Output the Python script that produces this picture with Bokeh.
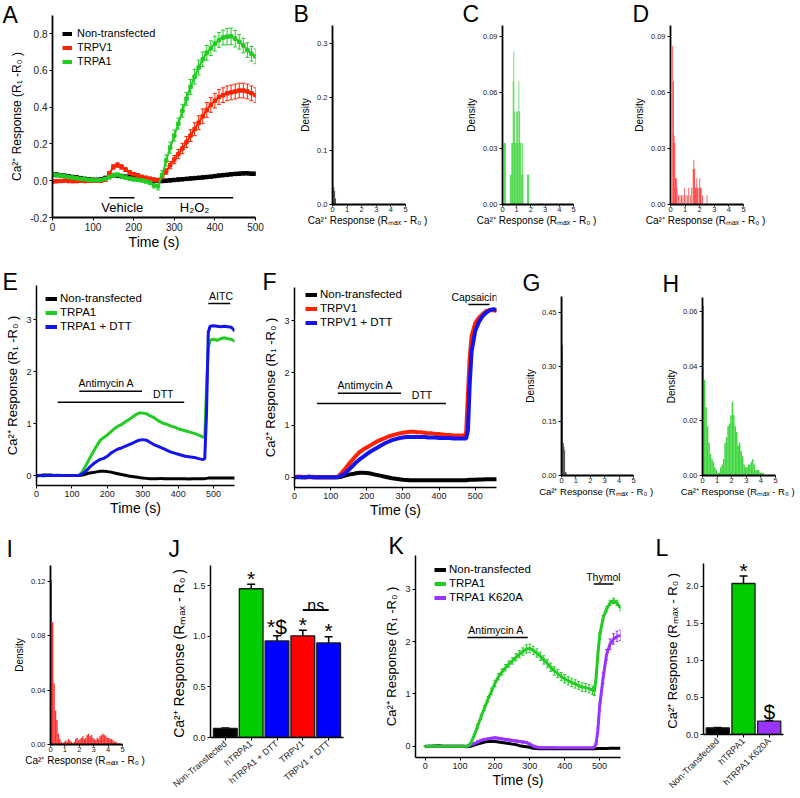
import math
from bokeh.plotting import figure
from bokeh.models import (ColumnDataSource, Whisker, TeeHead, Legend, LegendItem,
                          Range1d, FactorRange, FixedTicker, PrintfTickFormatter)
from bokeh.layouts import row, column
from bokeh.transform import dodge
from bokeh.embed import file_html
from bokeh.resources import INLINE
from bokeh.core.properties import value

# ======================= DATA =======================
# ---- Panel A (H2O2) ----
A_time = list(range(0, 501, 10))
A_black = [0.035, 0.033, 0.030, 0.027, 0.024, 0.020, 0.017, 0.014, 0.010, 0.007,
           0.005, 0.005, 0.008, 0.015, 0.025, 0.030, 0.028, 0.025, 0.022, 0.018,
           0.015, 0.012, 0.010, 0.008, 0.005, 0.002, 0.000, -0.002, 0.000, 0.002,
           0.004, 0.006, 0.008, 0.010, 0.012, 0.014, 0.016, 0.018, 0.020, 0.022,
           0.025, 0.028, 0.030, 0.032, 0.035, 0.037, 0.038, 0.040, 0.040, 0.038,
           0.038]
A_red = [-0.005, -0.003, -0.002, 0.000, -0.002, -0.003, -0.002, 0.000, -0.002, 0.000,
         0.000, 0.000, 0.000, 0.005, 0.040, 0.075, 0.085, 0.075, 0.060, 0.045,
         0.035, 0.028, 0.020, 0.015, 0.010, 0.005, 0.003, 0.020, 0.050, 0.085,
         0.115, 0.145, 0.175, 0.210, 0.245, 0.280, 0.315, 0.350, 0.385, 0.412,
         0.435, 0.455, 0.465, 0.475, 0.480, 0.485, 0.490, 0.490, 0.485, 0.475,
         0.465]
A_green = [0.035, 0.030, 0.028, 0.025, 0.020, 0.017, 0.013, 0.010, 0.008, 0.005,
           0.003, 0.003, 0.005, 0.010, 0.020, 0.030, 0.032, 0.025, 0.018, 0.012,
           0.008, 0.005, 0.002, -0.003, -0.010, -0.025, -0.030, 0.030, 0.110, 0.180,
           0.245, 0.310, 0.380, 0.445, 0.510, 0.565, 0.615, 0.660, 0.695, 0.720,
           0.745, 0.765, 0.778, 0.783, 0.785, 0.772, 0.755, 0.735, 0.710, 0.690,
           0.676]
A_black_err = [0.008, 0.008, 0.007, 0.008, 0.008, 0.007, 0.008, 0.008, 0.007, 0.008,
               0.008, 0.007, 0.008, 0.008, 0.008, 0.007, 0.008, 0.008, 0.007, 0.008,
               0.008, 0.007, 0.008, 0.008, 0.007, 0.008, 0.008, 0.007, 0.008, 0.008,
               0.007, 0.008, 0.008, 0.007, 0.008, 0.008, 0.007, 0.008, 0.008, 0.007,
               0.008, 0.008, 0.007, 0.008, 0.008, 0.007, 0.008, 0.008, 0.007, 0.008,
               0.008]
A_red_err = [0.006, 0.006, 0.006, 0.006, 0.006, 0.006, 0.006, 0.006, 0.006, 0.006,
             0.006, 0.006, 0.006, 0.008, 0.010, 0.012, 0.012, 0.012, 0.010, 0.010,
             0.010, 0.010, 0.010, 0.010, 0.010, 0.010, 0.010, 0.012, 0.015, 0.020,
             0.022, 0.025, 0.028, 0.030, 0.032, 0.035, 0.038, 0.040, 0.040, 0.040,
             0.040, 0.040, 0.040, 0.040, 0.040, 0.040, 0.040, 0.040, 0.040, 0.040,
             0.040]
A_green_err = [0.010, 0.010, 0.010, 0.010, 0.010, 0.010, 0.010, 0.010, 0.010, 0.010,
               0.010, 0.010, 0.010, 0.010, 0.010, 0.010, 0.010, 0.010, 0.010, 0.010,
               0.010, 0.010, 0.010, 0.010, 0.010, 0.015, 0.020, 0.025, 0.030, 0.030,
               0.030, 0.030, 0.035, 0.035, 0.040, 0.040, 0.040, 0.040, 0.040, 0.040,
               0.040, 0.040, 0.040, 0.045, 0.045, 0.045, 0.040, 0.040, 0.040, 0.040,
               0.040]
A_legend = ["Non-transfected", "TRPV1", "TRPA1"]
A_stim_name = ["Vehicle", "H\u2082O\u2082"]
A_stim_start = [140, 263]
A_stim_end = [202, 445]
A_stim_y = [-0.092, -0.092]
A_stim_label_x = [172, 350]
A_stim_label_y = [-0.145, -0.148]

# ---- Histograms (bin centers, densities) ----
B_centers = [0.03, 0.09, 0.15, 0.21]
B_density = [0.305, 0.032, 0.025, 0.011]
C_centers = [0.10, 0.15, 0.20, 0.55, 0.60, 0.65, 0.70, 0.75, 0.80, 0.85, 0.90, 0.95,
             1.00, 1.05, 1.10, 1.15, 1.20, 1.25, 1.30, 1.35, 1.40, 1.45, 1.75, 1.80, 1.85]
C_density = [0.033, 0.033, 0.033, 0.016, 0.016, 0.033, 0.033, 0.066, 0.082, 0.050, 0.033, 0.033,
             0.050, 0.050, 0.033, 0.066, 0.050, 0.033, 0.033, 0.016, 0.033, 0.016, 0.016, 0.016, 0.016]
D_centers = [0.15, 0.20, 0.25, 0.30, 0.35, 0.40, 0.45, 0.55, 0.65, 0.75, 0.85, 0.95, 1.05,
             1.15, 1.25, 1.35, 1.45, 1.55, 1.60, 1.65, 1.70, 1.75, 1.80, 1.85, 1.95, 2.00,
             2.05, 2.10, 2.20, 2.50]
D_density = [0.085, 0.066, 0.037, 0.033, 0.014, 0.014, 0.009, 0.005, 0.005, 0.005, 0.005, 0.009, 0.005,
             0.005, 0.009, 0.005, 0.009, 0.019, 0.024, 0.019, 0.009, 0.009, 0.014, 0.009, 0.009, 0.014,
             0.009, 0.009, 0.005, 0.005]
G_centers = [0.025, 0.075, 0.125, 0.175, 0.225, 0.275, 0.325]
G_density = [0.490, 0.360, 0.090, 0.080, 0.070, 0.010, 0.008]
H_centers = [0.05, 0.15, 0.25, 0.35, 0.45, 0.55, 0.65, 0.75, 0.85, 0.95, 1.05, 1.15, 1.25, 1.35,
             1.45, 1.55, 1.65, 1.75, 1.85, 1.95, 2.05, 2.15, 2.25, 2.35, 2.45, 2.55, 2.65, 2.75,
             2.85, 2.95, 3.05, 3.15, 3.25, 3.35, 3.45, 3.55, 3.65, 3.75, 3.85, 3.95, 4.05, 4.15]
H_density = [0.062, 0.035, 0.025, 0.018, 0.012, 0.008, 0.006, 0.005, 0.003, 0.002, 0.001, 0.001, 0.003, 0.004,
             0.006, 0.012, 0.014, 0.018, 0.019, 0.022, 0.027, 0.022, 0.018, 0.016, 0.011, 0.012, 0.009, 0.007,
             0.004, 0.003, 0.003, 0.004, 0.004, 0.005, 0.006, 0.004, 0.002, 0.002, 0.002, 0.001, 0.001, 0.001]
I_centers = [0.05, 0.15, 0.25, 0.35, 0.45, 0.55, 0.65, 0.75, 0.85, 0.95, 1.05, 1.15, 1.25, 1.35,
             1.45, 1.55, 1.65, 1.75, 1.85, 1.95, 2.05, 2.15, 2.25, 2.35, 2.45, 2.55, 2.65, 2.75,
             2.85, 2.95, 3.05, 3.15, 3.25, 3.35, 3.45, 3.55, 3.65, 3.75, 3.85, 3.95, 4.05, 4.15,
             4.25, 4.35, 4.45, 4.55, 4.65, 4.75]
I_density = [0.121, 0.090, 0.045, 0.025, 0.018, 0.008, 0.004, 0.002, 0.001, 0.002, 0.003, 0.002, 0.004, 0.003,
             0.002, 0.001, 0.002, 0.004, 0.005, 0.003, 0.004, 0.005, 0.006, 0.004, 0.005, 0.007, 0.008, 0.006,
             0.007, 0.005, 0.004, 0.003, 0.005, 0.004, 0.006, 0.007, 0.008, 0.007, 0.006, 0.005, 0.005, 0.004,
             0.004, 0.003, 0.002, 0.002, 0.001, 0.001]

# ---- Panels E / F (Antimycin A + DTT) ----
EF_time = list(range(0, 471, 10)) + [475, 480, 485, 490] + list(range(500, 561, 10))
E_black = [-0.01, 0.0, 0.01, 0.01, 0.01, 0.0, 0.0, 0.0, 0.0, 0.0, 0.0, 0.0, 0.0,
           0.01, 0.03, 0.05, 0.06, 0.07, 0.08, 0.08, 0.075, 0.065, 0.05, 0.035, 0.02, 0.005,
           -0.01, -0.02, -0.03, -0.04, -0.05, -0.055, -0.06, -0.06, -0.06, -0.055, -0.06, -0.06,
           -0.06, -0.06, -0.06, -0.06, -0.06, -0.065, -0.06, -0.06, -0.06, -0.06,
           -0.06, -0.055, -0.05, -0.05,
           -0.05, -0.05, -0.05, -0.05, -0.05, -0.05, -0.05]
E_green = [0.0, 0.0, -0.01, 0.0, 0.0, 0.0, 0.01, 0.0, 0.0, 0.0, 0.0, 0.0, 0.0,
           0.08, 0.2, 0.33, 0.45, 0.57, 0.68, 0.73, 0.78, 0.84, 0.9, 0.95, 0.98, 1.03,
           1.07, 1.12, 1.17, 1.2, 1.2, 1.19, 1.15, 1.12, 1.07, 1.03, 1.0, 0.98,
           0.95, 0.93, 0.9, 0.88, 0.86, 0.84, 0.82, 0.8, 0.77, 0.74,
           0.73, 1.7, 2.45, 2.6,
           2.62, 2.6, 2.63, 2.65, 2.63, 2.62, 2.58]
E_blue = [0.0, 0.0, 0.0, 0.0, 0.0, 0.0, 0.0, 0.0, 0.0, 0.0, 0.0, 0.0, 0.0,
          0.04, 0.09, 0.16, 0.22, 0.27, 0.31, 0.33, 0.37, 0.43, 0.47, 0.51, 0.53, 0.56,
          0.59, 0.62, 0.65, 0.68, 0.69, 0.68, 0.64, 0.6, 0.57, 0.54, 0.51, 0.48,
          0.45, 0.43, 0.41, 0.39, 0.37, 0.36, 0.35, 0.34, 0.32, 0.31,
          0.32, 1.2, 2.75, 2.87,
          2.88, 2.87, 2.86, 2.87, 2.86, 2.85, 2.78]
E_legend = ["Non-transfected", "TRPA1", "TRPA1 + DTT"]
E_stim_name = ["Antimycin A", "DTT", "AITC"]
E_stim_start = [121, 60, 485]
E_stim_end = [298, 417, 547]
E_stim_y = [1.62, 1.41, 3.31]
E_stim_label_x = [197, 358, 521]
E_stim_label_y = [1.77, 1.56, 3.46]

F_black = [0.0, 0.01, 0.0, 0.0, 0.01, 0.0, 0.0, 0.0, 0.0, 0.0, 0.0, 0.0, 0.0,
           0.01, 0.03, 0.05, 0.06, 0.075, 0.085, 0.085, 0.08, 0.07, 0.055, 0.04, 0.025, 0.01,
           -0.005, -0.02, -0.03, -0.04, -0.05, -0.055, -0.06, -0.06, -0.06, -0.06, -0.06, -0.06,
           -0.06, -0.06, -0.06, -0.06, -0.06, -0.06, -0.06, -0.06, -0.06, -0.06,
           -0.06, -0.055, -0.05, -0.05,
           -0.05, -0.045, -0.045, -0.04, -0.04, -0.04, -0.04]
F_red = [0.0, 0.01, 0.01, 0.0, 0.0, 0.01, 0.0, 0.0, 0.0, 0.0, 0.0, 0.0, 0.01,
         0.08, 0.16, 0.25, 0.33, 0.41, 0.48, 0.53, 0.57, 0.61, 0.65, 0.69, 0.72, 0.75,
         0.78, 0.8, 0.82, 0.84, 0.85, 0.86, 0.87, 0.87, 0.86, 0.86, 0.85, 0.84,
         0.84, 0.83, 0.83, 0.82, 0.81, 0.81, 0.8, 0.8, 0.8, 0.8,
         0.85, 1.6, 2.3, 2.7,
         2.95, 3.05, 3.12, 3.18, 3.2, 3.2, 3.18]
F_blue = [0.0, 0.0, 0.0, 0.0, 0.01, 0.0, 0.0, 0.0, 0.0, 0.0, 0.0, 0.0, 0.0,
          0.03, 0.08, 0.14, 0.21, 0.28, 0.34, 0.39, 0.44, 0.49, 0.53, 0.57, 0.61, 0.65,
          0.68, 0.71, 0.73, 0.75, 0.76, 0.77, 0.77, 0.77, 0.77, 0.77, 0.77, 0.76,
          0.76, 0.76, 0.75, 0.75, 0.75, 0.75, 0.74, 0.74, 0.74, 0.74,
          0.74, 0.9, 1.8, 2.4,
          2.8, 2.97, 3.08, 3.15, 3.2, 3.22, 3.2]
F_legend = ["Non-transfected", "TRPV1", "TRPV1 + DTT"]
F_stim_name = ["Antimycin A", "DTT", "Capsaicin"]
F_stim_start = [120, 62, 481]
F_stim_end = [295, 419, 540]
F_stim_y = [1.61, 1.41, 3.31]
F_stim_label_x = [196, 353, 498]
F_stim_label_y = [1.76, 1.57, 3.45]

# ---- Panel K (K620A) ----
K_time = list(range(0, 481, 10)) + [485, 490, 495, 500] + list(range(510, 561, 10))
K_black = [-0.01, 0.0, 0.0, 0.01, 0.01, 0.0, 0.0, 0.0, 0.0, 0.0, 0.0, 0.0, -0.01,
           0.0, 0.02, 0.04, 0.06, 0.08, 0.09, 0.09, 0.09, 0.08, 0.07, 0.06, 0.05, 0.04,
           0.03, 0.01, 0.0, -0.01, -0.02, -0.04, -0.045, -0.05, -0.05, -0.05, -0.05, -0.05,
           -0.05, -0.05, -0.05, -0.05, -0.05, -0.05, -0.05, -0.05, -0.05, -0.05, -0.05,
           -0.05, -0.05, -0.045, -0.045,
           -0.045, -0.045, -0.04, -0.04, -0.04, -0.04]
K_green = [0.0, 0.0, 0.0, 0.01, 0.0, 0.0, 0.0, 0.0, 0.0, 0.0, 0.0, 0.0, 0.0,
           0.05, 0.2, 0.38, 0.56, 0.73, 0.9, 1.05, 1.2, 1.33, 1.42, 1.5, 1.57, 1.63,
           1.7, 1.76, 1.81, 1.86, 1.87, 1.83, 1.78, 1.72, 1.65, 1.58, 1.51, 1.44,
           1.39, 1.33, 1.29, 1.25, 1.22, 1.19, 1.16, 1.13, 1.12, 1.1, 1.07,
           1.05, 1.3, 1.75, 2.1,
           2.45, 2.62, 2.74, 2.78, 2.74, 2.64]
K_green_err = [0.01, 0.01, 0.01, 0.01, 0.01, 0.01, 0.01, 0.01, 0.01, 0.01, 0.01, 0.01, 0.01,
               0.02, 0.03, 0.04, 0.05, 0.05, 0.05, 0.06, 0.06, 0.06, 0.06, 0.06, 0.06, 0.06,
               0.07, 0.07, 0.07, 0.08, 0.08, 0.08, 0.08, 0.08, 0.08, 0.08, 0.08, 0.08,
               0.08, 0.08, 0.08, 0.08, 0.08, 0.08, 0.08, 0.08, 0.08, 0.08, 0.08,
               0.08, 0.08, 0.07, 0.06,
               0.05, 0.05, 0.05, 0.05, 0.05, 0.05]
K_purple = [0.0, 0.0, 0.0, 0.0, 0.0, 0.0, 0.0, 0.0, 0.0, 0.0, 0.0, 0.0, 0.0,
            0.02, 0.05, 0.08, 0.11, 0.13, 0.14, 0.15, 0.16, 0.15, 0.14, 0.13, 0.12, 0.11,
            0.1, 0.09, 0.08, 0.07, 0.04, 0.0, -0.02, -0.03, -0.03, -0.03, -0.03, -0.03,
            -0.03, -0.03, -0.03, -0.03, -0.03, -0.03, -0.03, -0.03, -0.03, -0.03, -0.03,
            -0.02, 0.05, 0.3, 0.75,
            1.3, 1.75, 1.95, 2.05, 2.1, 2.12]
K_purple_err = [0.01, 0.01, 0.01, 0.01, 0.01, 0.01, 0.01, 0.01, 0.01, 0.01, 0.01, 0.01, 0.01,
                0.02, 0.02, 0.02, 0.02, 0.02, 0.02, 0.02, 0.02, 0.02, 0.02, 0.02, 0.02, 0.02,
                0.02, 0.02, 0.02, 0.02, 0.02, 0.02, 0.02, 0.02, 0.02, 0.02, 0.02, 0.02,
                0.01, 0.01, 0.01, 0.01, 0.01, 0.01, 0.01, 0.01, 0.01, 0.01, 0.01,
                0.01, 0.02, 0.05, 0.08,
                0.10, 0.10, 0.10, 0.10, 0.10, 0.10]
K_legend = ["Non-transfected", "TRPA1", "TRPA1 K620A"]
K_stim_name = ["Antimycin A", "Thymol"]
K_stim_start = [121, 483]
K_stim_end = [294, 540]
K_stim_y = [2.08, 3.10]
K_stim_label_x = [203, 511]
K_stim_label_y = [2.23, 3.24]

# ---- Bar charts J and L ----
J_cats = ["Non-Transfected", "hTRPA1", "hTRPA1 + DTT", "TRPV1", "TRPV1 + DTT"]
J_vals = [0.09, 1.47, 0.955, 1.005, 0.935]
J_err = [0.005, 0.045, 0.05, 0.055, 0.06]
J_marks = ["", "*", "*$", "*", "*"]
L_cats = ["Non-Transfected", "hTRPA1", "hTRPA1 K620A"]
L_vals = [0.09, 2.04, 0.18]
L_err = [0.005, 0.10, 0.01]
L_marks = ["", "*", "$"]

# ======================= STYLE =======================
FONT = "Liberation Sans"
BLACK = "#000000"
RED = "#FF2200"
GREEN = "#22CC22"
BLUE = "#1414EE"
PURPLE = "#9933FF"
BAR_GREEN = "#00CC00"
BAR_RED = "#FF0000"
BAR_BLUE = "#0000FF"
YLAB_LINE = "Ca\u00b2\u207a Response (R\u2081 -R\u2080 )"
YLAB_MAX = "Ca\u00b2\u207a Response (R\u2098\u2090\u2093  - R\u2080 )"
LETTER_PX = 23
LETTER_H = 26.8      # text box height of the letter titles
LETTER_DESC = 4.9    # descent of the letter font

# figure geometry: (width, height, border_left, border_right, border_top, border_bottom)
gA = (282, 255, 52, 27, 15, 38)
gB = (173, 255, 50, 50, 25, 51)
gC = (145, 255, 47, 27, 25, 51)
gD = (198, 255, 70, 55, 25, 51)
gE = (258, 275, 36, 24, 30, 45)
gF = (254, 275, 36, 16, 32, 43)
gG = (144, 275, 49, 23, 41, 55)
gH = (142, 275, 46, 23, 42, 55)
gI = (158, 266, 50, 36, 35, 52)
gJ = (223, 266, 52, 38, 35, 53)
gK = (273, 266, 28, 34, 25, 39)
gL = (144, 266, 49, 15, 33, 53)


def make_fig(g, xr, yr, letter, lx, lbase):
    w, h, bl, br, bt, bb = g
    p = figure(width=w, height=h, x_range=xr, y_range=yr, output_backend="svg",
               toolbar_location=None, min_border_left=bl, min_border_right=br,
               min_border_top=bt, min_border_bottom=bb)
    if "frame_align" in p.properties():
        p.frame_align = False
    p.outline_line_color = None
    p.xgrid.visible = False
    p.ygrid.visible = False
    # panel letter as title: baseline at lbase (figure coords), left edge at lx
    s = 2 * (bt - lbase - LETTER_DESC)
    s = min(s, bt - 2 - LETTER_H)
    p.title.text = letter
    p.title.text_font = FONT
    p.title.text_font_size = f"{LETTER_PX}px"
    p.title.text_font_style = "normal"
    p.title.text_color = "black"
    p.title.align = "left"
    p.title.vertical_align = "bottom"
    p.title.offset = lx - bl
    p.title.standoff = s
    return p


def style_axes(p, tick_px, xlab, ylab, xlab_px, ylab_px, lw=1.5, xstand=1, tstand=2):
    for ax in (p.xaxis[0], p.yaxis[0]):
        ax.axis_line_color = "black"
        ax.axis_line_width = lw
        ax.major_tick_line_color = "black"
        ax.major_tick_line_width = 1
        ax.major_tick_in = 0
        ax.major_tick_out = 3
        ax.minor_tick_line_color = None
        ax.minor_tick_out = 0
        ax.major_label_text_font = FONT
        ax.major_label_text_font_size = f"{tick_px}px"
        ax.major_label_text_color = "#1a1a1a"
        ax.major_label_standoff = 2
        ax.axis_label_text_font = FONT
        ax.axis_label_text_font_style = "normal"
        ax.axis_label_text_color = "black"
        ax.axis_label_standoff = 3
    p.xaxis[0].major_label_standoff = tstand
    p.xaxis[0].axis_label_standoff = xstand
    p.xaxis[0].axis_label = xlab
    p.yaxis[0].axis_label = ylab
    p.xaxis[0].axis_label_text_font_size = f"{xlab_px}px"
    p.yaxis[0].axis_label_text_font_size = f"{ylab_px}px"


def set_ticks(ax, ticks, fmt=None):
    ax.ticker = FixedTicker(ticks=ticks)
    if fmt:
        ax.formatter = PrintfTickFormatter(format=fmt)


def add_legend(p, g, names, colors, vx, top, glyph_w, standoff, font_px=11):
    w, h, bl, br, bt, bb = g
    fh = h - bt - bb
    items = []
    for nm, c in zip(names, colors):
        r = p.line(x=[float("nan")], y=[float("nan")], line_color=c, line_width=4)
        items.append(LegendItem(label=nm, renderers=[r]))
    n = len(items)
    lh = n * 13 + (n - 1) * 1
    leg = Legend(items=items, location=(vx, fh - top - lh), border_line_color=None,
                 background_fill_alpha=0, padding=0, margin=0, spacing=1,
                 glyph_width=glyph_w, glyph_height=13, label_height=13,
                 label_standoff=standoff, label_text_font=FONT,
                 label_text_font_size=f"{font_px}px", label_text_color="black")
    p.add_layout(leg)


def add_stims(p, starts, ends, ys, names, lx, ly, font_px):
    p.segment(x0=starts, y0=ys, x1=ends, y1=ys, line_color="black", line_width=1.5)
    p.text(x=lx, y=ly, text=names, text_font=value(FONT), text_font_size=f"{font_px}px",
           text_align="center", text_baseline="middle", text_color="black")


def hist_panel(g, centers, dens, width, color, ytop, yticks, yfmt, letter, lx, lb,
               alpha=0.75, xlab_px=10):
    p = make_fig(g, Range1d(0, 5), Range1d(0, ytop), letter, lx, lb)
    p.vbar(x=centers, width=width, top=dens, bottom=0, fill_color=color,
           fill_alpha=alpha, line_color=None)
    style_axes(p, 7.5, YLAB_MAX, "Density", xlab_px, 10, lw=1.8, xstand=0, tstand=0)
    p.xaxis[0].major_tick_out = 2
    set_ticks(p.xaxis[0], [0, 1, 2, 3, 4, 5])
    set_ticks(p.yaxis[0], yticks, yfmt)
    return p


def mark_height(marks, ups, plain, dollar):
    return [u + (dollar if "$" in m else plain) for m, u in zip(marks, ups)]


# ======================= PANEL A =======================
pA = make_fig(gA, Range1d(0, 500), Range1d(-0.2, 0.898), "A", 2, 23)
for vals, errs, col in [(A_black, A_black_err, BLACK), (A_red, A_red_err, RED),
                        (A_green, A_green_err, GREEN)]:
    src = ColumnDataSource(dict(t=A_time, v=vals,
                                up=[v + e for v, e in zip(vals, errs)],
                                lo=[v - e for v, e in zip(vals, errs)]))
    pA.add_layout(Whisker(source=src, base="t", upper="up", lower="lo", line_color=col,
                          line_width=1,
                          upper_head=TeeHead(size=4, line_color=col, line_width=1),
                          lower_head=TeeHead(size=4, line_color=col, line_width=1)))
    pA.line("t", "v", source=src, line_color=col, line_width=2)
    pA.scatter("t", "v", source=src, marker="square", size=3.5, color=col)
add_stims(pA, A_stim_start, A_stim_end, A_stim_y, A_stim_name, A_stim_label_x, A_stim_label_y, 13)
style_axes(pA, 10, "Time (s)", YLAB_LINE, 14, 12, lw=1.8, xstand=0)
set_ticks(pA.xaxis[0], [0, 100, 200, 300, 400, 500])
set_ticks(pA.yaxis[0], [-0.2, 0.0, 0.2, 0.4, 0.6, 0.8], "%.1f")
add_legend(pA, gA, A_legend, [BLACK, RED, GREEN], 10, 11.5, 10, 5)

# ======================= PANELS B C D =======================
pB = hist_panel(gB, B_centers, B_density, 0.06, "#111111", 0.3335, [0.0, 0.1, 0.2, 0.3], "%.1f",
                "B", 293 - 282, 20, 0.85)
pC = hist_panel(gC, C_centers, C_density, 0.06, "#11CC11", 0.0959, [0.0, 0.03, 0.06, 0.09], "%.2f",
                "C", 462 - 455, 21, 0.7)
pD = hist_panel(gD, D_centers, D_density, 0.06, "#FF0000", 0.0959, [0.0, 0.03, 0.06, 0.09], "%.2f",
                "D", 632 - 600, 21, 0.7)

# ======================= PANELS E F =======================
pE = make_fig(gE, Range1d(0, 559), Range1d(-0.192, 3.654), "E", 2, 290 - 255)
for vals, col in [(E_black, BLACK), (E_green, GREEN), (E_blue, BLUE)]:
    pE.line(EF_time, vals, line_color=col, line_width=3)
add_stims(pE, E_stim_start, E_stim_end, E_stim_y, E_stim_name, E_stim_label_x, E_stim_label_y, 10.5)
style_axes(pE, 9, "Time (s)", YLAB_LINE, 14, 13, xstand=0)
set_ticks(pE.xaxis[0], [0, 100, 200, 300, 400, 500])
set_ticks(pE.yaxis[0], [0, 1, 2, 3])
add_legend(pE, gE, E_legend, [BLACK, GREEN, BLUE], 9, 6.5, 12, 3, 11.5)

pF = make_fig(gF, Range1d(0, 559), Range1d(-0.197, 3.634), "F", 262 - 258, 290 - 255)
for vals, col in [(F_black, BLACK), (F_red, RED), (F_blue, BLUE)]:
    pF.line(EF_time, vals, line_color=col, line_width=4)
add_stims(pF, F_stim_start, F_stim_end, F_stim_y, F_stim_name, F_stim_label_x, F_stim_label_y, 10.5)
style_axes(pF, 9, "Time (s)", YLAB_LINE, 14, 13, xstand=0)
set_ticks(pF.xaxis[0], [0, 100, 200, 300, 400, 500])
set_ticks(pF.yaxis[0], [0, 1, 2, 3])
add_legend(pF, gF, F_legend, [BLACK, RED, BLUE], 11, 0.5, 12, 3, 11.5)

# ======================= PANELS G H I =======================
pG = hist_panel(gG, G_centers, G_density, 0.05, "#111111", 0.494, [0.0, 0.15, 0.30, 0.45], "%.2f",
                "G", 522 - 512, 291 - 255, 0.85, 9.5)
pH = hist_panel(gH, H_centers, H_density, 0.1, "#11CC11", 0.0651, [0.0, 0.02, 0.04, 0.06], "%.2f",
                "H", 662 - 656, 292 - 255, 0.8, 9.5)
pI = hist_panel(gI, I_centers, I_density, 0.1, "#FF0000", 0.1318, [0.0, 0.04, 0.08, 0.12], "%.2f",
                "I", 6, 555 - 530, 0.8)

# ======================= PANEL J =======================
J_colors = [BLACK, BAR_GREEN, BAR_BLUE, BAR_RED, BAR_BLUE]
J_up = [v + e for v, e in zip(J_vals, J_err)]
J_lo = [v - e for v, e in zip(J_vals, J_err)]
pJ = make_fig(gJ, FactorRange(factors=J_cats, range_padding=0.03), Range1d(0, 1.70),
              "J", 168 - 158, 554 - 530)
jsrc = ColumnDataSource(dict(cat=J_cats, val=J_vals, up=J_up, lo=J_lo, col=J_colors,
                             mark=J_marks, my=mark_height(J_marks, J_up, 0.06, 0.09)))
pJ.vbar(x="cat", top="val", width=0.92, source=jsrc, fill_color="col",
        line_color="#1a1a1a", line_width=1.3)
pJ.add_layout(Whisker(source=jsrc, base="cat", upper="up", lower="lo", line_color="black",
                      line_width=1.5,
                      upper_head=TeeHead(size=8, line_color="black", line_width=1.5),
                      lower_head=TeeHead(size=8, line_color="black", line_width=1.5)))
pJ.text(x="cat", y="my", text="mark", source=jsrc, text_font=value(FONT),
        text_font_size="21px", text_align="center", text_baseline="alphabetic")
ns_y = max(J_up[3], J_up[4]) + 0.2
pJ.segment(x0=[J_cats[3]], y0=[ns_y], x1=[J_cats[4]], y1=[ns_y], line_color="black", line_width=2)
pJ.text(x=dodge("cat", 0.5, range=pJ.x_range), y="y", text="t",
        source=ColumnDataSource(dict(cat=[J_cats[3]], y=[ns_y + 0.04], t=["ns"])),
        text_font=value(FONT), text_font_size="16px", text_align="center", text_baseline="alphabetic")
style_axes(pJ, 9, None, YLAB_MAX, 10, 14)
pJ.xaxis[0].major_label_orientation = 0.7
pJ.xaxis[0].major_label_text_font_size = "9px"
set_ticks(pJ.yaxis[0], [0.0, 0.5, 1.0, 1.5], "%.1f")

# ======================= PANEL K =======================
pK = make_fig(gK, Range1d(-28, 560), Range1d(-0.216, 3.646), "K", 382 - 381, 554 - 530)
pK.line(K_time, K_black, line_color=BLACK, line_width=3)
for vals, errs, col in [(K_purple, K_purple_err, PURPLE), (K_green, K_green_err, GREEN)]:
    src = ColumnDataSource(dict(t=K_time, v=vals,
                                up=[v + e for v, e in zip(vals, errs)],
                                lo=[v - e for v, e in zip(vals, errs)]))
    pK.add_layout(Whisker(source=src, base="t", upper="up", lower="lo", line_color=col,
                          line_width=1,
                          upper_head=TeeHead(size=3, line_color=col, line_width=1),
                          lower_head=TeeHead(size=3, line_color=col, line_width=1)))
    pK.line("t", "v", source=src, line_color=col, line_width=3)
add_stims(pK, K_stim_start, K_stim_end, K_stim_y, K_stim_name, K_stim_label_x, K_stim_label_y, 10.5)
style_axes(pK, 9, "Time (s)", YLAB_LINE, 14, 13, xstand=0)
set_ticks(pK.xaxis[0], [0, 100, 200, 300, 400, 500])
set_ticks(pK.yaxis[0], [0, 1, 2, 3])
add_legend(pK, gK, K_legend, [BLACK, GREEN, PURPLE], 19, 7.5, 12, 3, 11.5)

# ======================= PANEL L =======================
L_colors = [BLACK, BAR_GREEN, PURPLE]
L_up = [v + e for v, e in zip(L_vals, L_err)]
L_lo = [v - e for v, e in zip(L_vals, L_err)]
pL = make_fig(gL, FactorRange(factors=L_cats, range_padding=0.037), Range1d(0, 2.31),
              "L", 655 - 654, 553 - 530)
lsrc = ColumnDataSource(dict(cat=L_cats, val=L_vals, up=L_up, lo=L_lo, col=L_colors,
                             mark=L_marks, my=mark_height(L_marks, L_up, 0.07, 0.12)))
pL.vbar(x="cat", top="val", width=0.9, source=lsrc, fill_color="col",
        line_color="#1a1a1a", line_width=1.3)
pL.add_layout(Whisker(source=lsrc, base="cat", upper="up", lower="lo", line_color="black",
                      line_width=1.5,
                      upper_head=TeeHead(size=8, line_color="black", line_width=1.5),
                      lower_head=TeeHead(size=8, line_color="black", line_width=1.5)))
pL.text(x="cat", y="my", text="mark", source=lsrc, text_font=value(FONT),
        text_font_size="21px", text_align="center", text_baseline="alphabetic")
style_axes(pL, 9, None, YLAB_MAX, 10, 13)
pL.xaxis[0].major_label_orientation = math.pi / 4
pL.xaxis[0].major_label_text_font_size = "9px"
set_ticks(pL.yaxis[0], [0.0, 0.5, 1.0, 1.5, 2.0], "%.1f")

layout = column(row(pA, pB, pC, pD), row(pE, pF, pG, pH), row(pI, pJ, pK, pL))
open("out.html", "w").write(file_html(layout, INLINE, title="Ca2+ responses"))
